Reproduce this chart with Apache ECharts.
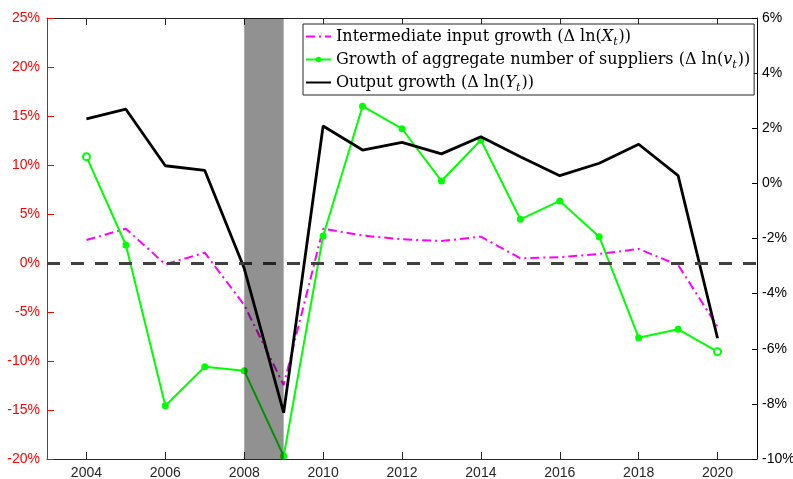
<!DOCTYPE html>
<html>
<head>
<meta charset="utf-8">
<script src="https://cdn.jsdelivr.net/npm/echarts@6/dist/echarts.min.js"></script>
<style>html,body{margin:0;padding:0;background:#fff}#c{width:793px;height:479px}</style>
</head>
<body>
<div id="c"></div>
<script>
const axisYears = [2003,2004,2005,2006,2007,2008,2009,2010,2011,2012,2013,2014,2015,2016,2017,2018,2019,2020,2021];
const years = [2004,2005,2006,2007,2008,2009,2010,2011,2012,2013,2014,2015,2016,2017,2018,2019,2020];
const intermediateGrowth = [2.35, 3.5, -0.13, 1.05, -4.29, -12.45, 3.5, 2.8, 2.42, 2.24, 2.69, 0.48, 0.6, 0.92, 1.43, -0.2, -6.5];
const supplierGrowth = [10.85, 1.84, -14.56, -10.58, -10.99, -19.7, 2.76, 16.0, 13.7, 8.37, 12.55, 4.46, 6.33, 2.69, -7.62, -6.77, -9.05];
const outputGrowth = [2.34, 2.69, 0.64, 0.47, -3.08, -8.32, 2.08, 1.21, 1.49, 1.07, 1.69, 0.97, 0.28, 0.73, 1.42, 0.28, -5.62];
const recession = ['2008', '2009'];
const names = ['Intermediate input growth', 'Growth of aggregate number of suppliers', 'Output growth'];
const legendMath = {
  'Intermediate input growth': '{a|Intermediate input growth (Δ ln(}{i|X}{s|t}{a|))}',
  'Growth of aggregate number of suppliers': '{a|Growth of aggregate number of suppliers (Δ ln(}{i|v}{s|t}{a|))}',
  'Output growth': '{a|Output growth (Δ ln(}{i|Y}{s|t}{a|))}'
};

const even = (idx, v) => Number(v) % 2 === 0;
const chart = echarts.init(document.getElementById('c'));
const serif = 'DejaVu Serif';
const sans = 'Liberation Sans';
const hiddenSym = {color: 'rgba(0,0,0,0)', borderWidth: 0, opacity: 0};

chart.setOption({
  animation: false,
  grid: {left: 47, right: 36, top: 18, bottom: 20, containLabel: false, outerBoundsMode: 'none'},
  legend: {
    orient: 'vertical', left: 303, top: 24,
    padding: [1, 4, 1, 2], itemGap: 0,
    itemWidth: 25, itemHeight: 7,
    backgroundColor: '#fff', borderColor: '#262626', borderWidth: 1,
    data: [
      {name: names[0], itemStyle: hiddenSym},
      {name: names[1]},
      {name: names[2], itemStyle: hiddenSym}
    ],
    formatter: n => legendMath[n],
    textStyle: {
      fontFamily: serif, fontSize: 16, color: '#000', lineHeight: 23,
      rich: {
        a: {fontFamily: serif, fontSize: 16, color: '#000', lineHeight: 23},
        i: {fontFamily: serif, fontSize: 16, fontStyle: 'italic', color: '#000', lineHeight: 23},
        s: {fontFamily: serif, fontSize: 11, fontStyle: 'italic', color: '#000', lineHeight: 19, verticalAlign: 'bottom', padding: [0, 1, 0, 0]}
      }
    }
  },
  xAxis: [{
    type: 'category', data: axisYears.map(String), boundaryGap: false,
    axisLine: {onZero: false, lineStyle: {color: '#262626', width: 1}},
    axisTick: {inside: true, length: 7, interval: even, lineStyle: {color: '#262626'}},
    axisLabel: {interval: even, color: '#262626', fontFamily: sans, fontSize: 14, margin: 7},
    splitLine: {show: false}
  }, {
    type: 'category', data: axisYears.map(String), boundaryGap: false, position: 'top',
    axisLine: {onZero: false, lineStyle: {color: '#262626', width: 1}},
    axisTick: {inside: true, length: 7, interval: even, lineStyle: {color: '#262626'}},
    axisLabel: {show: false},
    splitLine: {show: false}
  }],
  yAxis: [{
    type: 'value', min: -20, max: 25, interval: 5, position: 'left',
    axisLine: {show: true, onZero: false, lineStyle: {color: '#ff0000'}},
    axisTick: {show: true, inside: true, length: 7, lineStyle: {color: '#ff0000'}},
    axisLabel: {formatter: '{value}%', color: '#ff0000', fontFamily: sans, fontSize: 14, margin: 7},
    splitLine: {show: false}
  }, {
    type: 'value', min: -10, max: 6, interval: 2, position: 'right',
    axisLine: {show: true, onZero: false, lineStyle: {color: '#000'}},
    axisTick: {show: true, inside: true, length: 5, lineStyle: {color: '#000'}},
    axisLabel: {formatter: '{value}%', color: '#000', fontFamily: sans, fontSize: 14, margin: 5},
    splitLine: {show: false}
  }],
  series: [{
    name: names[0], type: 'line', yAxisIndex: 0, symbol: 'none',
    data: years.map((y, i) => [String(y), intermediateGrowth[i]]),
    lineStyle: {color: '#ff00ff', width: 2, type: [9, 4, 2, 4]},
    itemStyle: {color: '#ff00ff'}, z: 3
  }, {
    name: names[1], type: 'line', yAxisIndex: 0, symbol: 'circle', symbolSize: 7, showSymbol: true,
    data: years.map((y, i) => {
      const d = {value: [String(y), supplierGrowth[i]]};
      if (i === 0 || i === years.length - 1) d.itemStyle = {color: '#fff', borderColor: '#00ff00', borderWidth: 2};
      return d;
    }),
    lineStyle: {color: '#00ff00', width: 2},
    itemStyle: {color: '#00ff00'}, z: 3,
    markLine: {
      silent: true, symbol: ['none', 'none'], label: {show: false},
      lineStyle: {color: '#404040', width: 3, type: [13, 11]},
      data: [{yAxis: 0}]
    }
  }, {
    name: names[2], type: 'line', yAxisIndex: 1, symbol: 'none',
    data: years.map((y, i) => [String(y), outputGrowth[i]]),
    lineStyle: {color: '#000', width: 2.8},
    itemStyle: {color: '#000'}, z: 4
  }, {
    name: 'recession', type: 'line', yAxisIndex: 0, data: [], z: 10,
    markArea: {
      silent: true, z: 10,
      itemStyle: {color: 'rgba(0,0,0,0.43)'},
      data: [[{xAxis: recession[0]}, {xAxis: recession[1]}]]
    }
  }]
});
</script>
</body>
</html>
